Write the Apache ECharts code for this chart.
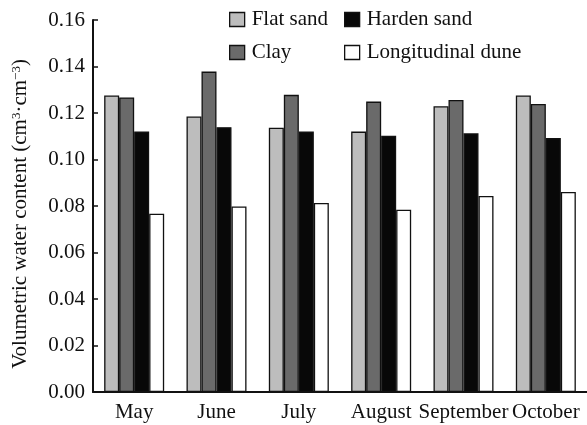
<!DOCTYPE html>
<html>
<head>
<meta charset="utf-8">
<script src="https://cdn.jsdelivr.net/npm/echarts@6/dist/echarts.min.js"></script>
<style>
  html, body { margin: 0; padding: 0; background: #fff; }
  #chart { width: 587px; height: 425px; }
</style>
</head>
<body>
<div id="chart"></div>
<script>
// Monthly volumetric water content by surface type
const months = ['May', 'June', 'July', 'August', 'September', 'October'];
const flatSand = [0.1275, 0.1185, 0.1137, 0.1120, 0.1229, 0.1275];
const clay = [0.1267, 0.1378, 0.1278, 0.1249, 0.1256, 0.1239];
const hardenSand = [0.1120, 0.1139, 0.1120, 0.1102, 0.1113, 0.1092];
const longitudinalDune = [0.0767, 0.0798, 0.0813, 0.0784, 0.0843, 0.0860];

const serif = '"Liberation Serif", "Times New Roman", serif';
const ink = '#111';

function bar(name, data, color) {
  return {
    name: name,
    type: 'bar',
    data: data,
    barWidth: 15,
    barGap: '0%',
    itemStyle: { color: color, borderColor: ink, borderWidth: 1.3 }
  };
}

function legendColumn(left, names) {
  return {
    left: left, top: 4, orient: 'vertical', itemGap: 12,
    icon: 'rect', itemWidth: 15, itemHeight: 14,
    itemStyle: { borderColor: ink, borderWidth: 1.3 },
    data: names,
    textStyle: { fontFamily: serif, fontSize: 21, color: ink, padding: [0, 0, 0, 2] }
  };
}

const chart = echarts.init(document.getElementById('chart'));
chart.setOption({
  animation: false,
  textStyle: { fontFamily: serif },
  grid: { left: 93, right: 0, top: 20, bottom: 33 },
  legend: [
    legendColumn(224, ['Flat sand', 'Clay']),
    legendColumn(339, ['Harden sand', 'Longitudinal dune'])
  ],
  xAxis: {
    type: 'category',
    data: months,
    axisLine: { lineStyle: { color: ink, width: 2 } },
    axisTick: { inside: true, length: 5, lineStyle: { color: ink, width: 1.5 } },
    axisLabel: { color: ink, fontSize: 21, fontFamily: serif, margin: 10, interval: 0 }
  },
  yAxis: {
    type: 'value',
    min: 0, max: 0.16, interval: 0.02,
    name: '{a|Volumetric water content (cm}{s|3}{a|·cm}{s|−3}{a|)}',
    nameLocation: 'middle',
    nameRotate: 90,
    nameGap: 62,
    nameTextStyle: {
      padding: [0, 16, 0, 0],
      rich: {
        a: { fontFamily: serif, fontSize: 21, color: ink },
        s: { fontFamily: serif, fontSize: 13, color: ink, verticalAlign: 'top' }
      }
    },
    splitLine: { show: false },
    axisLine: { show: true, lineStyle: { color: ink, width: 2 } },
    axisTick: { show: true, inside: true, length: 5, lineStyle: { color: ink, width: 1.5 } },
    axisLabel: {
      color: ink, fontSize: 21, fontFamily: serif, margin: 8,
      formatter: v => v.toFixed(2)
    }
  },
  series: [
    bar('Flat sand', flatSand, '#bdbdbd'),
    bar('Clay', clay, '#6a6a6a'),
    bar('Harden sand', hardenSand, '#080808'),
    bar('Longitudinal dune', longitudinalDune, '#ffffff')
  ]
});
</script>
</body>
</html>
